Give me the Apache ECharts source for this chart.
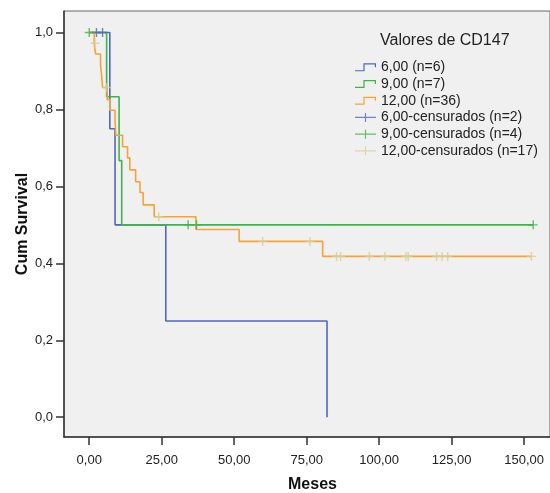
<!DOCTYPE html>
<html><head><meta charset="utf-8">
<script src="https://cdn.jsdelivr.net/npm/echarts@6/dist/echarts.min.js"></script>
<style>html,body{margin:0;padding:0;background:#fff}#c{width:550px;height:493px}</style>
</head><body><div id="c"></div>
<script>
// Tick labels
const xTicks = [0, 25, 50, 75, 100, 125, 150];
const yTicks = [0, 0.2, 0.4, 0.6, 0.8, 1.0];

// Series names (legend)
const lineNames = ['6,00 (n=6)', '9,00 (n=7)', '12,00 (n=36)'];
const censNames = ['6,00-censurados (n=2)', '9,00-censurados (n=4)', '12,00-censurados (n=17)'];

// CD147 = 6,00
const blueTimes = [0, 7.1, 8.9, 26.4, 82.0];
const blueSurv  = [1, 0.75, 0.5, 0.25, 0];
const blueCens  = [2.5, 4.6];

// CD147 = 9,00
const greenTimes = [0, 6.0, 10.3, 11.2, 153.1];
const greenSurv  = [1, 0.833, 0.667, 0.5, 0.5];
const greenCens  = [0, 34.1, 37.0, 153.1];

// CD147 = 12,00
const orangeTimes = [0, 1.7, 2.2, 3.9, 4.3, 4.6, 6.2, 7.1, 8.9, 9.2, 11.5, 13.2, 14.0, 16.0, 17.5, 18.6, 22.4, 36.8, 51.7, 80.5, 152.5];
const orangeSurv  = [1, 0.972, 0.944, 0.915, 0.886, 0.857, 0.826, 0.798, 0.768, 0.733, 0.703, 0.674, 0.643, 0.612, 0.584, 0.552, 0.521, 0.488, 0.457, 0.418, 0.418];
const orangeCens  = [2.0, 6.0, 24.0, 59.8, 76.1, 85.3, 86.7, 96.6, 102.0, 109.2, 110.0, 119.8, 121.7, 123.6, 152.5];

const colBlue = '#5066c0', colGreen = '#3fb34a', colOrange = '#f6a23a', colKhaki = '#d3cf9a';

function pairs(ts, ss) { return ts.map((t, i) => [t, ss[i]]); }
function censPts(cens, ts, ss) {
  return cens.map(c => {
    let v = ss[0];
    for (let i = 0; i < ts.length; i++) if (ts[i] <= c) v = ss[i];
    return [c, v];
  });
}

const plusPath = 'path://M0,4.2H10V5.8H0Z M4.2,0H5.8V10H4.2Z';
const stepIcon = 'path://M0,6.8H8.4V0H21V4H19.8V1.2H9.6V8H0Z';
const censIcon = 'path://M0,3.9H21V5.1H0Z M9.9,0H11.1V9H9.9Z';

function lineSeries(name, ts, ss, col) {
  return { name, type: 'line', step: 'end', data: pairs(ts, ss), symbol: 'none',
    lineStyle: { color: col, width: 1.6 }, itemStyle: { color: col }, z: 2, animation: false };
}
function censSeries(name, cens, ts, ss, col) {
  return { name, type: 'scatter', data: censPts(cens, ts, ss), symbol: plusPath, symbolSize: 9,
    itemStyle: { color: col }, z: 3, animation: false };
}

const chart = echarts.init(document.getElementById('c'), null, { renderer: 'canvas' });
const font = 'Liberation Sans';
chart.setOption({
  animation: false,
  backgroundColor: '#ffffff',
  textStyle: { fontFamily: font },
  grid: { left: 64, top: 11, right: 0, bottom: 56, show: true, backgroundColor: '#f0f0f0', borderColor: '#666', borderWidth: 1,
    containLabel: false, outerBoundsMode: 'none' },
  xAxis: {
    type: 'value', min: -8.7, max: 158.9,
    axisLine: { show: true, onZero: false, lineStyle: { color: '#333', width: 1.5 } },
    axisTick: { show: true, customValues: xTicks, length: 8, lineStyle: { color: '#333', width: 1.5 } },
    axisLabel: { customValues: xTicks, margin: 17, fontSize: 13, color: '#222', fontFamily: font,
      formatter: v => v.toFixed(2).replace('.', ',') },
    splitLine: { show: false },
    name: 'Meses', nameLocation: 'middle', nameGap: 40, nameMoveOverlap: false,
    nameTextStyle: { fontWeight: 'bold', fontSize: 16, color: '#111', fontFamily: font, padding: [0, 0, 0, 11] }
  },
  yAxis: {
    type: 'value', min: -0.0515, max: 1.0559,
    axisLine: { show: true, onZero: false, lineStyle: { color: '#333', width: 1.5 } },
    axisTick: { show: true, customValues: yTicks, length: 8, lineStyle: { color: '#333', width: 1.5 } },
    axisLabel: { customValues: yTicks, margin: 11, fontSize: 13, color: '#222', fontFamily: font,
      formatter: v => v.toFixed(1).replace('.', ',') },
    splitLine: { show: false },
    name: 'Cum Survival', nameLocation: 'middle', nameGap: 33, nameMoveOverlap: false,
    nameTextStyle: { fontWeight: 'bold', fontSize: 16, color: '#111', fontFamily: font }
  },
  legend: {
    orient: 'vertical', left: 350, top: 54, itemGap: 0, itemWidth: 21, itemHeight: 9,
    textStyle: { fontSize: 14, color: '#222', lineHeight: 16.7, fontFamily: font },
    data: [
      { name: lineNames[0], icon: stepIcon }, { name: lineNames[1], icon: stepIcon }, { name: lineNames[2], icon: stepIcon },
      { name: censNames[0], icon: censIcon }, { name: censNames[1], icon: censIcon }, { name: censNames[2], icon: censIcon }
    ]
  },
  graphic: [{ type: 'text', left: 380, top: 33, style: { text: 'Valores de CD147', font: '16px "Liberation Sans"', fill: '#222' } }],
  series: [
    lineSeries(lineNames[0], blueTimes, blueSurv, colBlue),
    lineSeries(lineNames[1], greenTimes, greenSurv, colGreen),
    lineSeries(lineNames[2], orangeTimes, orangeSurv, colOrange),
    censSeries(censNames[0], blueCens, blueTimes, blueSurv, colBlue),
    censSeries(censNames[1], greenCens, greenTimes, greenSurv, colGreen),
    censSeries(censNames[2], orangeCens, orangeTimes, orangeSurv, colKhaki)
  ]
});
</script>
</body></html>
